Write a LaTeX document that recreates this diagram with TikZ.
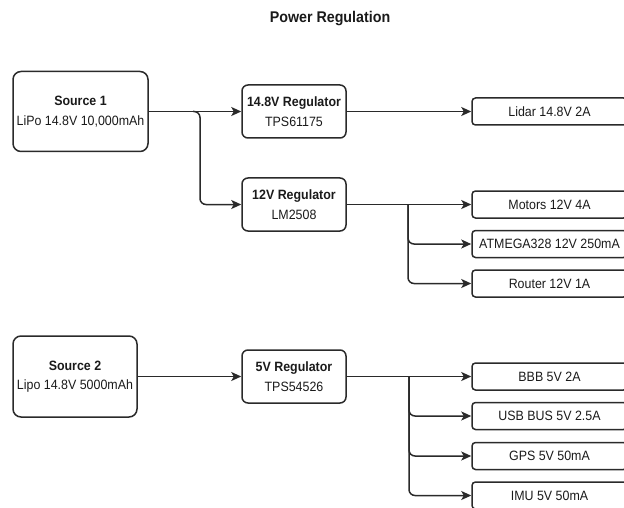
\documentclass[tikz,border=0pt]{standalone}
\usepackage{fontspec}
\setmainfont{Liberation Sans}[FakeStretch=0.92]
\usetikzlibrary{arrows.meta}
\definecolor{ln}{HTML}{2A2A2A}
\definecolor{tx}{HTML}{1A1A1A}
\tikzset{
  box/.style={draw=ln, line width=1.5pt, inner sep=0pt, align=center, text=tx,
    font=\fontsize{13.5}{19.5}\selectfont},
  srcbox/.style={box, rounded corners=8pt},
  regbox/.style={box, rounded corners=6pt, minimum width=104pt, minimum height=53pt},
  loadbox/.style={box, rounded corners=3.5pt, minimum width=155pt, minimum height=27pt},
  wire/.style={draw=ln, line width=1.5pt, rounded corners=6pt},
  arr/.style={wire, -{Stealth[length=10pt,width=9pt,inset=2.5pt]}},
}
\begin{document}
\begin{tikzpicture}[x=1pt,y=-1pt]
\useasboundingbox (0,0) rectangle (624,508);
\clip (0,0) rectangle (624,508);
\node[text=tx, font=\fontsize{15.5}{18}\selectfont\bfseries] (title) at (330,19) {Power Regulation};

\node[srcbox, minimum width=135pt, minimum height=80pt] (s1) at (80.5,111.5) {{\bfseries Source 1}\\LiPo 14.8V 10,000mAh};
\node[srcbox, minimum width=124pt, minimum height=81pt] (s2) at (75,376.5) {{\bfseries Source 2}\\Lipo 14.8V 5000mAh};

\node[regbox] (r148) at (294,111.5) {{\bfseries 14.8V Regulator}\\TPS61175};
\node[regbox] (r12) at (294,204.5) {{\bfseries 12V Regulator}\\LM2508};
\node[regbox] (r5) at (294,376.5) {{\bfseries 5V Regulator}\\TPS54526};

\node[loadbox] (lidar) at (549.5,111.5) {Lidar 14.8V 2A};
\node[loadbox] (motors) at (549.5,204.5) {Motors 12V 4A};
\node[loadbox] (atmega) at (549.5,244) {ATMEGA328 12V 250mA};
\node[loadbox] (router) at (549.5,283.5) {Router 12V 1A};
\node[loadbox] (bbb) at (549.5,376.5) {BBB 5V 2A};
\node[loadbox] (usb) at (549.5,416) {USB BUS 5V 2.5A};
\node[loadbox] (gps) at (549.5,456) {GPS 5V 50mA};
\node[loadbox] (imu) at (549.5,495.5) {IMU 5V 50mA};

\coordinate (b1) at (200,111.5);
\coordinate (b2) at (408,204.5);
\coordinate (b3) at (409,376.5);

\draw[arr] (s1.east) -- (r148.west);
\draw[arr] (b1) ++(-7,0) -- (b1) |- (r12.west);
\draw[arr] (r148.east) -- (lidar.west);

\draw[arr] (r12.east) -- (motors.west);
\draw[arr] (b2) |- (atmega.west);
\draw[arr] (b2) |- (router.west);

\draw[arr] (s2.east) -- (r5.west);
\draw[arr] (r5.east) -- (bbb.west);
\draw[arr] (b3) |- (usb.west);
\draw[arr] (b3) |- (gps.west);
\draw[arr] (b3) |- (imu.west);
\end{tikzpicture}
\end{document}
